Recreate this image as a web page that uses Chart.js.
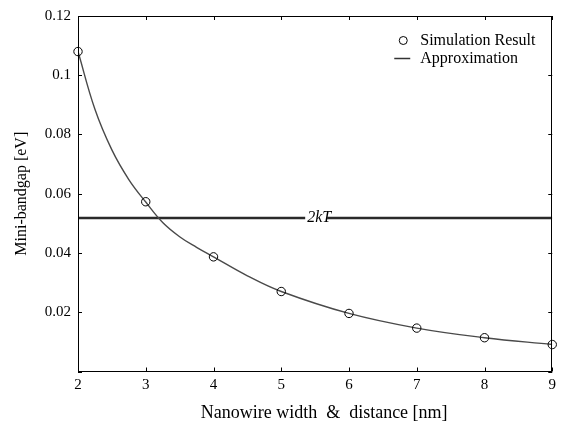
<!DOCTYPE html>
<html><head><meta charset="utf-8">
<script src="https://cdn.jsdelivr.net/npm/chart.js@4.4.0/dist/chart.umd.min.js"></script>
<style>html,body{margin:0;padding:0;background:#fff}#wrap{width:561px;height:427px}</style>
</head><body><div id="wrap"><canvas id="c" width="561" height="427"></canvas></div>
<script>
const widths = [2, 3, 4, 5, 6, 7, 8, 9];
const simValues = [0.108, 0.0573, 0.0387, 0.0270, 0.0196, 0.01465, 0.0114, 0.0091];
const approxX = [2, 2.25, 2.5, 2.75, 3, 3.25, 3.5, 3.75, 4, 4.5, 5, 6, 7, 8, 9];
const approxValues = [0.108, 0.0885, 0.0748, 0.0648, 0.0572, 0.0503, 0.0455, 0.0419, 0.0387, 0.0323, 0.0270, 0.0196, 0.01465, 0.0114, 0.0091];
const thermalX = [2, 9];
const thermalValues = [0.0518, 0.0518];
const thermalLabel = '2kT';
const thermalLabelX = 5.56;
const yTickValues = [0, 0.02, 0.04, 0.06, 0.08, 0.1, 0.12];
const yTickLabels = ['', '0.02', '0.04', '0.06', '0.08', '0.1', '0.12'];
const xTickLabels = ['2', '3', '4', '5', '6', '7', '8', '9'];
const seriesNames = ['Simulation Result', 'Approximation'];

const SERIF = '"Liberation Serif", "Times New Roman", serif';

const decor = {
  id: 'decor',
  afterDatasetsDraw(chart) {
    const ctx = chart.ctx;
    const a = chart.chartArea;
    const xs = chart.scales.x, ys = chart.scales.y;
    ctx.save();
    // frame
    ctx.strokeStyle = '#000';
    ctx.lineWidth = 1;
    ctx.strokeRect(Math.round(a.left) + 0.5, Math.round(a.top) + 0.5, Math.round(a.right - a.left) - 1, Math.round(a.bottom - a.top) - 1);
    // inward ticks
    ctx.beginPath();
    const tl = 4;
    xs.ticks.forEach(t => {
      const px = Math.round(xs.getPixelForValue(t.value)) + 0.5;
      ctx.moveTo(px, a.bottom); ctx.lineTo(px, a.bottom - tl);
      ctx.moveTo(px, a.top); ctx.lineTo(px, a.top + tl);
    });
    ys.ticks.forEach(t => {
      const py = Math.round(ys.getPixelForValue(t.value)) + 0.5;
      ctx.moveTo(a.left, py); ctx.lineTo(a.left + tl, py);
      ctx.moveTo(a.right, py); ctx.lineTo(a.right - tl, py);
    });
    ctx.stroke();
    // 2kT label
    const lx = xs.getPixelForValue(thermalLabelX);
    const ly = ys.getPixelForValue(thermalValues[0]);
    ctx.font = 'italic 16px ' + SERIF;
    const w = ctx.measureText(thermalLabel).width;
    ctx.fillStyle = '#fff';
    ctx.fillRect(lx - w / 2 - 2, ly - 3, w - 2, 6);
    ctx.fillStyle = '#000';
    ctx.textAlign = 'center';
    ctx.textBaseline = 'middle';
    ctx.fillText(thermalLabel, lx, ly);
    // legend
    ctx.font = '16px ' + SERIF;
    ctx.textAlign = 'left';
    const lxs = a.right - 149;
    const row1 = a.top + 24.5, row2 = a.top + 42.5;
    ctx.beginPath();
    ctx.arc(lxs, row1, 4, 0, Math.PI * 2);
    ctx.strokeStyle = '#000';
    ctx.lineWidth = 1;
    ctx.stroke();
    ctx.beginPath();
    ctx.moveTo(lxs - 9, row2); ctx.lineTo(lxs + 7, row2);
    ctx.strokeStyle = '#333';
    ctx.lineWidth = 1.5;
    ctx.stroke();
    ctx.fillStyle = '#000';
    ctx.fillText(seriesNames[0], lxs + 17, row1);
    ctx.fillText(seriesNames[1], lxs + 17, row2);
    ctx.restore();
  }
};

new Chart(document.getElementById('c'), {
  type: 'scatter',
  data: {
    datasets: [
      {
        label: seriesNames[0],
        data: widths.map((x, i) => ({ x, y: simValues[i] })),
        showLine: false,
        clip: false,
        pointStyle: 'circle',
        pointRadius: 4.2,
        pointBorderWidth: 1,
        pointBorderColor: '#000',
        pointBackgroundColor: 'rgba(0,0,0,0)'
      },
      {
        label: seriesNames[1],
        data: approxX.map((x, i) => ({ x, y: approxValues[i] })),
        showLine: true,
        tension: 0.4,
        borderColor: '#4a4a4a',
        borderWidth: 1.4,
        pointRadius: 0,
        fill: false
      },
      {
        label: thermalLabel,
        data: thermalX.map((x, i) => ({ x, y: thermalValues[i] })),
        showLine: true,
        borderColor: '#2a2a2a',
        borderWidth: 2.6,
        pointRadius: 0,
        fill: false
      }
    ]
  },
  options: {
    responsive: false,
    animation: false,
    devicePixelRatio: 1,
    layout: { padding: { top: 13, right: 6, left: 0, bottom: 0 } },
    plugins: { legend: { display: false }, tooltip: { enabled: false } },
    scales: {
      x: {
        type: 'linear', min: 2, max: 9,
        afterBuildTicks: s => { s.ticks = widths.map(v => ({ value: v })); },
        ticks: {
          autoSkip: false, maxRotation: 0, padding: 5, color: '#000',
          font: { family: SERIF, size: 15 },
          callback: v => xTickLabels[widths.indexOf(v)]
        },
        grid: { display: false, drawTicks: false },
        border: { display: false },
        title: {
          display: true, text: '    Nanowire width  &  distance [nm]', color: '#000',
          font: { family: SERIF, size: 18 }, padding: { top: 0, bottom: 3 }
        },
        afterFit: s => { s.height = 55.5; }
      },
      y: {
        type: 'linear', min: 0, max: 0.12,
        afterBuildTicks: s => { s.ticks = yTickValues.map(v => ({ value: v })); },
        ticks: {
          autoSkip: false, padding: 7, color: '#000',
          font: { family: SERIF, size: 15 },
          callback: v => yTickLabels[yTickValues.findIndex(t => Math.abs(t - v) < 1e-9)]
        },
        grid: { display: false, drawTicks: false },
        border: { display: false },
        title: {
          display: true, text: 'Mini-bandgap [eV]', color: '#000',
          font: { family: SERIF, size: 16 }, padding: { top: 12, bottom: 0 }
        },
        afterFit: s => { s.width = 78; }
      }
    }
  },
  plugins: [decor]
});
</script>
</body></html>
